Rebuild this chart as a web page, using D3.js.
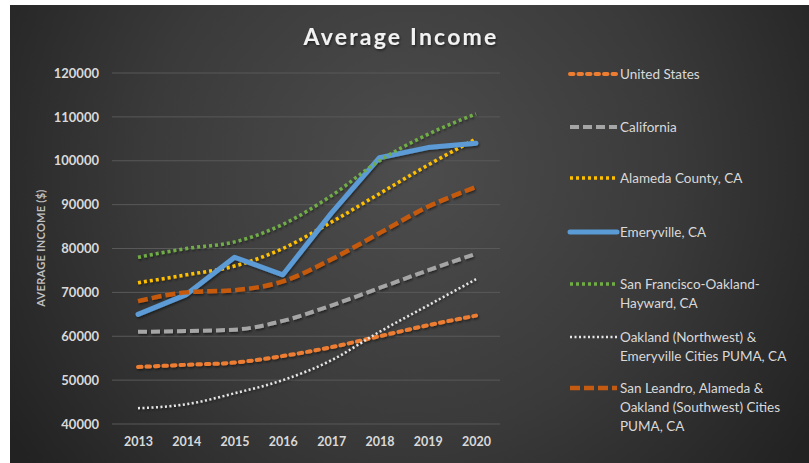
<!DOCTYPE html>
<html>
<head>
<meta charset="utf-8">
<script src="https://cdn.jsdelivr.net/npm/d3@7"></script>
<style>
  body { margin: 0; background: #fff; }
  text { font-family: Lato, "Open Sans", sans-serif; }
</style>
</head>
<body>
<svg id="chart"></svg>
<script>
var width = 809,
  height = 463;

var years = [2013, 2014, 2015, 2016, 2017, 2018, 2019, 2020];
var yTicks = [40000, 50000, 60000, 70000, 80000, 90000, 100000, 110000, 120000];

var seriesNames = [
  'United States',
  'California',
  'Alameda County, CA',
  'Emeryville, CA',
  'San Francisco-Oakland-Hayward, CA',
  'Oakland (Northwest) & Emeryville Cities PUMA, CA',
  'San Leandro, Alameda & Oakland (Southwest) Cities PUMA, CA'
];

var unitedStates = [53000, 53500, 54000, 55500, 57500, 60000, 62500, 64700];
var california = [61000, 61200, 61500, 63500, 67000, 71000, 75000, 78800];
var alameda = [72200, 74000, 76000, 80000, 86000, 92500, 99000, 105000];
var emeryville = [65000, 69500, 78000, 74000, 88000, 100700, 103000, 104000];
var sfOaklandHayward = [78000, 80000, 81500, 85500, 92000, 100000, 106000, 110700];
var oaklandNW = [43600, 44500, 47000, 50000, 54500, 61000, 67000, 73000];
var sanLeandro = [68000, 70000, 70500, 72500, 77500, 83500, 89500, 94000];

var legendLines = [
  ['United States'],
  ['California'],
  ['Alameda County, CA'],
  ['Emeryville, CA'],
  ['San Francisco-Oakland-', 'Hayward, CA'],
  ['Oakland (Northwest) &', 'Emeryville Cities PUMA, CA'],
  ['San Leandro, Alameda &', 'Oakland (Southwest) Cities', 'PUMA, CA']
];

var styles = [
  { color: '#ED7D31', w: 4, dash: '3.5 5', cap: 'round', curve: true },
  { color: '#A5A5A5', w: 4, dash: '9 4', cap: 'butt', curve: true },
  { color: '#FFC000', w: 3.5, dash: '3 3', cap: 'butt', curve: true },
  { color: '#5B9BD5', w: 5, dash: null, cap: 'round', curve: false },
  { color: '#70AD47', w: 3.5, dash: '3 3', cap: 'butt', curve: true },
  { color: '#E6E6E6', w: 2.5, dash: '2 2.5', cap: 'butt', curve: true },
  { color: '#C55A11', w: 4.5, dash: '10 4', cap: 'butt', curve: true }
];

var allValues = [unitedStates, california, alameda, emeryville, sfOaklandHayward, oaklandNW, sanLeandro];

var svg = d3.select('#chart')
  .attr('width', width)
  .attr('height', height);

var defs = svg.append('defs');
var grad = defs.append('radialGradient')
  .attr('id', 'bg')
  .attr('gradientUnits', 'userSpaceOnUse')
  .attr('cx', 410).attr('cy', 170).attr('r', 480);
grad.append('stop').attr('offset', '0%').attr('stop-color', '#4d4d4d');
grad.append('stop').attr('offset', '55%').attr('stop-color', '#3a3a3a');
grad.append('stop').attr('offset', '100%').attr('stop-color', '#222');

var shadow = defs.append('filter').attr('id', 'shadow')
  .attr('x', '-10%').attr('y', '-10%').attr('width', '120%').attr('height', '120%');
shadow.append('feDropShadow')
  .attr('dx', 1).attr('dy', 1.5).attr('stdDeviation', 1.2)
  .attr('flood-color', '#000').attr('flood-opacity', 0.5);

svg.append('rect')
  .attr('x', 10).attr('y', 5)
  .attr('width', width - 10).attr('height', height - 5)
  .attr('fill', 'url(#bg)');

var x = d3.scalePoint()
  .domain(years)
  .range([138, 476]);

var y = d3.scaleLinear()
  .domain([40000, 120000])
  .range([424, 73]);

// gridlines
svg.append('g')
  .selectAll('line')
  .data(yTicks)
  .enter().append('line')
  .attr('x1', 112).attr('x2', 500)
  .attr('y1', function(d) { return y(d); })
  .attr('y2', function(d) { return y(d); })
  .attr('stroke', '#595959')
  .attr('stroke-width', 1);

var yAxis = svg.append('g')
  .attr('transform', 'translate(104,0)')
  .call(d3.axisLeft(y).tickValues(yTicks).tickSize(0).tickPadding(5).tickFormat(d3.format('d')));
yAxis.select('.domain').remove();
yAxis.selectAll('text')
  .attr('fill', '#d9d9d9')
  .attr('font-size', 13)
  .attr('font-weight', 'bold')
  .style('font-family', 'Lato, sans-serif');

var xAxis = svg.append('g')
  .attr('transform', 'translate(0,432)')
  .call(d3.axisBottom(x).tickSize(0).tickPadding(5).tickFormat(d3.format('d')));
xAxis.select('.domain').remove();
xAxis.selectAll('text')
  .attr('fill', '#d9d9d9')
  .attr('font-size', 12.5)
  .attr('font-weight', 'bold')
  .style('font-family', 'Lato, sans-serif');

svg.append('text')
  .attr('transform', 'translate(45,248) rotate(-90)')
  .attr('text-anchor', 'middle')
  .attr('fill', '#bfbfbf')
  .attr('font-size', 11)
  .attr('font-weight', 'bold')
  .attr('letter-spacing', 0.3)
  .text('AVERAGE INCOME ($)');

svg.append('text')
  .attr('x', 401)
  .attr('y', 45)
  .attr('text-anchor', 'middle')
  .attr('fill', '#f2f2f2')
  .attr('font-size', 23)
  .attr('font-weight', 'bold')
  .attr('letter-spacing', 2.2)
  .attr('filter', 'url(#shadow)')
  .text('Average Income');

var smooth = d3.line()
  .x(function(d, i) { return x(years[i]); })
  .y(function(d) { return y(d); })
  .curve(d3.curveMonotoneX);

var straight = d3.line()
  .x(function(d, i) { return x(years[i]); })
  .y(function(d) { return y(d); });

// draw order: later series on top (Excel order)
svg.append('g')
  .attr('filter', 'url(#shadow)')
  .selectAll('path')
  .data(allValues)
  .enter().append('path')
  .attr('d', function(d, i) { return styles[i].curve ? smooth(d) : straight(d); })
  .attr('fill', 'none')
  .attr('stroke', function(d, i) { return styles[i].color; })
  .attr('stroke-width', function(d, i) { return styles[i].w; })
  .attr('stroke-dasharray', function(d, i) { return styles[i].dash; })
  .attr('stroke-linecap', function(d, i) { return styles[i].cap; })
  .attr('stroke-linejoin', 'round');

// legend
var legendY = [74, 127, 178, 232, 284, 337, 388];
var legend = svg.append('g')
  .selectAll('g')
  .data(seriesNames)
  .enter().append('g')
  .attr('transform', function(d, i) { return 'translate(0,' + legendY[i] + ')'; });

legend.append('line')
  .attr('x1', 570).attr('x2', 617)
  .attr('y1', 0).attr('y2', 0)
  .attr('stroke', function(d, i) { return styles[i].color; })
  .attr('stroke-width', function(d, i) { return styles[i].w; })
  .attr('stroke-dasharray', function(d, i) { return styles[i].dash; })
  .attr('stroke-linecap', function(d, i) { return styles[i].cap; });

legend.append('text')
  .attr('x', 620)
  .attr('y', 5)
  .attr('fill', '#d9d9d9')
  .attr('font-size', 13.5)
  .style('font-family', 'Lato, sans-serif')
  .selectAll('tspan')
  .data(function(d, i) { return legendLines[i]; })
  .enter().append('tspan')
  .attr('x', 620)
  .attr('dy', function(d, j) { return j === 0 ? 0 : 19; })
  .text(function(d) { return d; });
</script>
</body>
</html>
